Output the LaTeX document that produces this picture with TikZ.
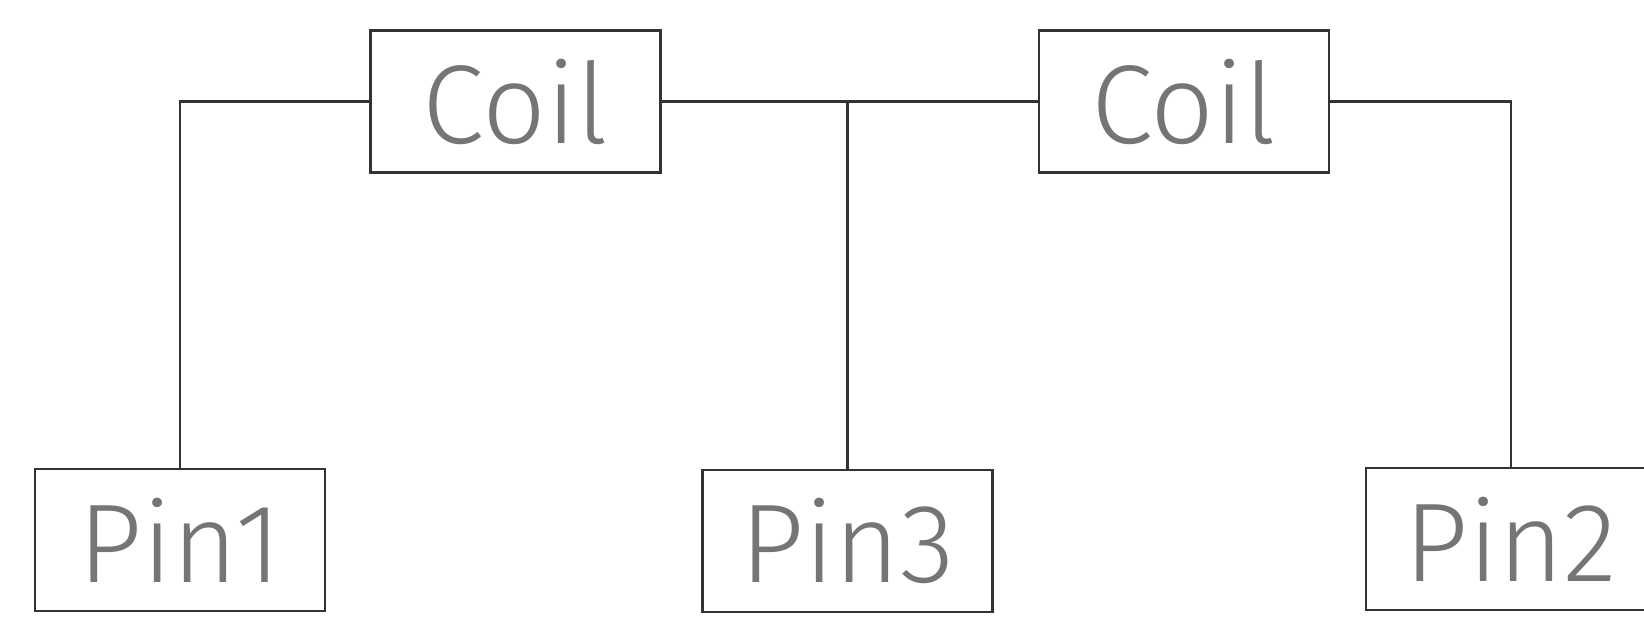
\documentclass[tikz,border=0pt]{standalone}
\usepackage{fontspec}
\newfontfamily\lblfont{Fira Sans Light}
\definecolor{wire}{HTML}{333333}
\definecolor{txt}{HTML}{757575}
\begin{document}
\begin{tikzpicture}[x=1pt,y=1pt,
    part/.style={draw=wire,line width=2.8pt,minimum width=290pt,minimum height=142pt,inner sep=0pt,
      text=txt,font=\lblfont\fontsize{112}{114}\selectfont}]
        \useasboundingbox (0,0) rectangle (1644,618);
        \node[part] (coilA) at (515.5,516.5) {Coil};
        \node[part] (coilB) at (1184,516.5) {Coil};
        \node[part] (pinA) at (180,78) {Pin1};
        \node[part] (pinC) at (847.5,77) {Pin3};
        \node[part] (pinB) at (1511,79) {Pin2};
        \draw[wire,line width=2.8pt] (coilA.west) -| (pinA.north);
        \draw[wire,line width=2.8pt] (coilA.east) -- (coilB.west);
        \draw[wire,line width=2.8pt] (pinC.north) -- (pinC.north |- coilA.east);
        \draw[wire,line width=2.8pt] (coilB.east) -| (pinB.north);
    \end{tikzpicture}
\end{document}
